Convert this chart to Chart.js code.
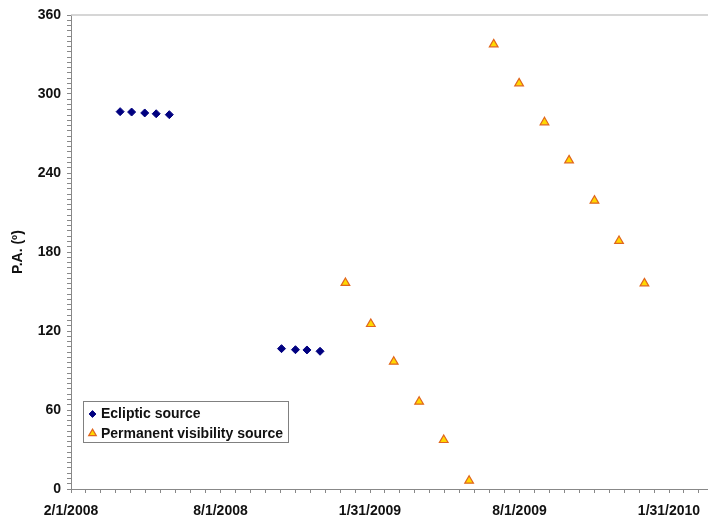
<!DOCTYPE html>
<html>
<head>
<meta charset="utf-8">
<script src="https://cdn.jsdelivr.net/npm/chart.js"></script>
<style>
  html, body { margin: 0; padding: 0; background: #fff; overflow: hidden; }
  #wrap { width: 708px; height: 521px; position: relative; }
</style>
</head>
<body>
<div id="wrap"><canvas id="c" width="708" height="521"></canvas></div>
<script>
// ---- data ----
const axisStartDate = '2008-02-01';
const eclipticDates = ['2008-04-01','2008-04-15','2008-05-01','2008-05-15','2008-05-31',
                       '2008-10-15','2008-11-01','2008-11-15','2008-12-01'];
const eclipticPA = [286.6, 286.3, 285.6, 285.0, 284.3, 106.6, 105.8, 105.6, 104.6];
const permanentDates = ['2009-01-01','2009-02-01','2009-03-01','2009-04-01','2009-05-01','2009-06-01',
                        '2009-07-01','2009-08-01','2009-09-01','2009-10-01','2009-11-01','2009-12-01','2010-01-01'];
const permanentPA = [156.5, 125.3, 96.7, 66.3, 37.2, 6.3, 337.7, 308.1, 278.5, 249.6, 219.0, 188.4, 156.2];
const xTickLabels = ['2/1/2008', '8/1/2008', '1/31/2009', '8/1/2009', '1/31/2010'];
const yTickLabels = [0, 60, 120, 180, 240, 300, 360];
const seriesNames = ['Ecliptic source', 'Permanent visibility source'];

// ---- helpers ----
const DAY = 86400000;
const base = Date.parse(axisStartDate);
const toDay = s => (Date.parse(s) - base) / DAY;
const X_MAJOR = 182.5, X_MINOR = 18.25, X_MAX = 777.6;
const Y_MINOR = 4;

const font = { family: '"Liberation Sans", Arial, sans-serif', size: 14, weight: 'bold' };

const topBorder = {
  id: 'topBorder',
  beforeDatasetsDraw(chart) {
    const { ctx, chartArea: a } = chart;
    ctx.save();
    ctx.strokeStyle = '#c8c8c8';
    ctx.lineWidth = 1.5;
    ctx.beginPath();
    ctx.moveTo(a.left, a.top);
    ctx.lineTo(a.right, a.top);
    ctx.stroke();
    ctx.restore();
  }
};

const boxLegend = {
  id: 'boxLegend',
  afterDraw(chart) {
    const ctx = chart.ctx;
    const a = chart.chartArea;
    const x0 = a.left + 12.5, y0 = 401.5, w = 205, h = 41;
    ctx.save();
    ctx.fillStyle = '#fff';
    ctx.fillRect(x0, y0, w, h);
    ctx.strokeStyle = '#808080';
    ctx.lineWidth = 1;
    ctx.strokeRect(x0, y0, w, h);
    ctx.font = 'bold 14px "Liberation Sans", Arial, sans-serif';
    ctx.textBaseline = 'middle';
    ctx.textAlign = 'left';
    chart.data.datasets.forEach((ds, i) => {
      const cy = y0 + 12.5 + i * 19.5;
      const cx = x0 + 9;
      ctx.fillStyle = ds.backgroundColor;
      ctx.strokeStyle = ds.borderColor;
      ctx.lineWidth = ds.borderWidth;
      Chart.helpers.drawPoint(ctx, { pointStyle: ds.pointStyle, radius: ds.pointRadius - 0.6, borderWidth: ds.borderWidth, rotation: 0 }, cx, cy);
      ctx.fillStyle = '#111';
      ctx.fillText(ds.label, x0 + 17.5, cy + 0.5);
    });
    ctx.restore();
  }
};

new Chart(document.getElementById('c'), {
  type: 'scatter',
  data: {
    datasets: [
      {
        label: seriesNames[0],
        data: eclipticDates.map((d, i) => ({ x: toDay(d), y: eclipticPA[i] })),
        pointStyle: 'rectRot', pointRadius: 4,
        backgroundColor: '#000080', borderColor: '#000080', borderWidth: 1
      },
      {
        label: seriesNames[1],
        data: permanentDates.map((d, i) => ({ x: toDay(d), y: permanentPA[i] })),
        pointStyle: 'triangle', pointRadius: 5,
        backgroundColor: '#FFD800', borderColor: '#E0661E', borderWidth: 1.2
      }
    ]
  },
  options: {
    responsive: false,
    animation: false,
    devicePixelRatio: 1,
    layout: { autoPadding: false, padding: { top: 15, left: 0, right: 0, bottom: 0 } },
    plugins: { legend: { display: false }, tooltip: { enabled: false } },
    scales: {
      x: {
        type: 'linear',
        min: 0, max: X_MAX,
        afterBuildTicks: s => {
          const t = [];
          for (let v = 0; v <= X_MAX + 1e-6; v += X_MINOR) t.push({ value: v });
          s.ticks = t;
        },
        afterFit: s => { s.height = 32; s.paddingRight = 0; s.paddingLeft = 0; },
        grid: { drawOnChartArea: false, drawTicks: true, tickLength: 4, color: '#888', tickColor: '#888' },
        border: { color: '#888', width: 1 },
        ticks: {
          autoSkip: false, maxRotation: 0, minRotation: 0, padding: 10,
          font, color: '#111',
          callback: v => {
            const k = Math.round(v / X_MINOR);
            return (k % 10 === 0 && xTickLabels[k / 10] !== undefined) ? xTickLabels[k / 10] : '';
          }
        }
      },
      y: {
        min: 0, max: 360,
        afterBuildTicks: s => {
          const t = [];
          for (let v = 0; v <= 360; v += Y_MINOR) t.push({ value: v });
          s.ticks = t;
        },
        afterFit: s => { s.width = 71; },
        grid: { drawOnChartArea: false, drawTicks: true, tickLength: 4, color: '#888', tickColor: '#888' },
        border: { color: '#888', width: 1 },
        title: { display: true, text: 'P.A. (º)', font, color: '#111', padding: { top: 10, bottom: 0 } },
        ticks: {
          autoSkip: false, padding: 6, font, color: '#111',
          callback: v => yTickLabels.includes(v) ? String(v) : ''
        }
      }
    }
  },
  plugins: [topBorder, boxLegend]
});
</script>
</body>
</html>
